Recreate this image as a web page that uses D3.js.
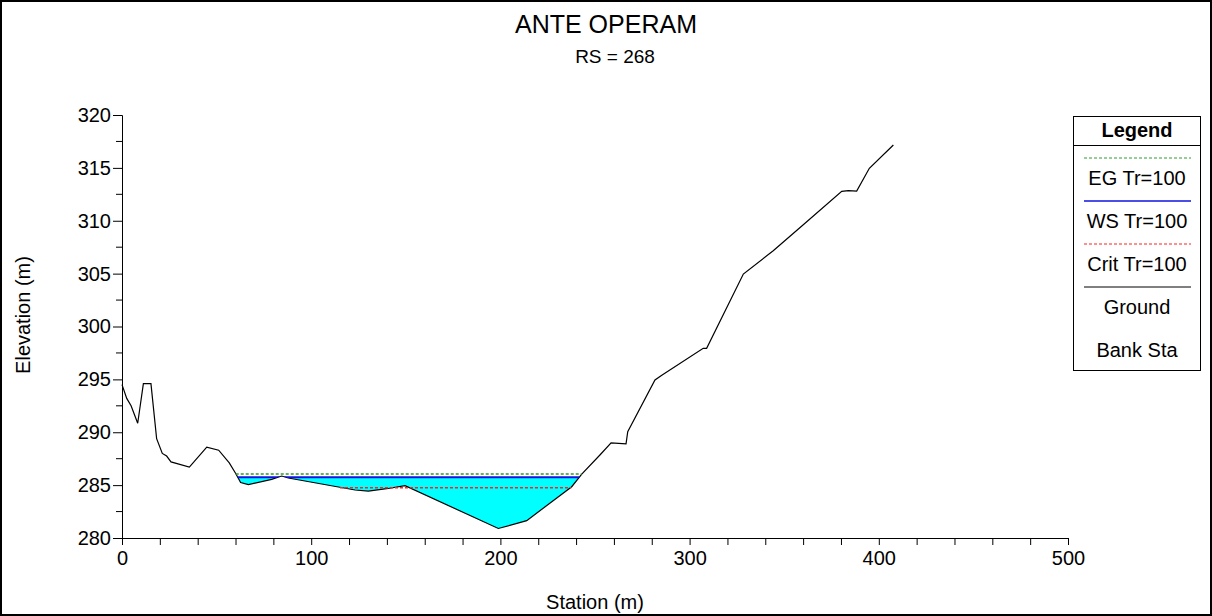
<!DOCTYPE html>
<html>
<head>
<meta charset="utf-8">
<script src="https://cdn.jsdelivr.net/npm/d3@7"></script>
<style>
  body { margin: 0; background: #fff; }
  text { font-family: Arial, "Liberation Sans", sans-serif; fill: #000; }
</style>
</head>
<body>
<div id="graf"></div>
<script>
// ground profile (station m, elevation m)
var stations = [0, 2.5, 4.8, 8.3, 11.3, 15.3, 18.3, 21.3, 23.6, 25.9, 35.6, 44.8, 51.1, 56.7, 60.1, 62.7, 66.8,
  79.1, 84.4, 87.9, 123.2, 130.2, 139.9, 149.6, 198.9, 213.9, 237.7, 243.0, 252.6, 258.5, 266.4, 267.3,
  281.7, 285.3, 307.2, 309.0, 328.4, 344.2, 361.0, 380.4, 383.9, 388.3, 395.0, 407.7]
var elevations = [294.5, 293.2, 292.5, 290.85, 294.6, 294.6, 289.4, 288.0, 287.75, 287.2, 286.7, 288.6, 288.3, 287.1, 286.1, 285.25, 285.05,
  285.55, 285.86, 285.67, 284.54, 284.44, 284.66, 284.95, 280.9, 281.64, 284.85, 286.05, 287.85, 289.0, 288.9, 290.05,
  294.94, 295.4, 297.94, 297.94, 304.96, 307.17, 309.76, 312.78, 312.84, 312.81, 314.96, 317.16]

// water levels: [elevation, from station, to station]
var egLevel = [286.05, 60.1, 243.0]
var wsLevel = [285.74, 60.8, 242.6]
var critLevel = [284.76, 115.2, 237.5]

var legendItems = ["EG Tr=100", "WS Tr=100", "Crit Tr=100", "Ground", "Bank Sta"]
var legendStyle = [
  {color: "#2e9a2e", dash: "3,2", w: 1},
  {color: "#1010e0", dash: null, w: 1.5},
  {color: "#ff2020", dash: "3,2", w: 1},
  {color: "#000", dash: null, w: 1},
  null
]

var ground = stations.map((s, i) => ({s: s, e: elevations[i]}))

var W = 1212, H = 616
var pLeft = 122, pRight = 1068, pTop = 115, pBottom = 538

var svg = d3.select('#graf')
  .append('svg')
  .attr('width', W)
  .attr('height', H)

svg.append("rect")
  .attr("x", 1).attr("y", 1)
  .attr("width", W - 2).attr("height", H - 2)
  .attr("fill", "#fff").attr("stroke", "#000").attr("stroke-width", 2)

var x = d3.scaleLinear().domain([0, 500]).range([pLeft, pRight])
var y = d3.scaleLinear().domain([280, 320]).range([pBottom, pTop])

// titles
svg.append("text").attr("x", 606).attr("y", 33).attr("text-anchor", "middle")
  .style("font-size", "25px").text("ANTE OPERAM")
svg.append("text").attr("x", 615).attr("y", 63).attr("text-anchor", "middle")
  .style("font-size", "19px").text("RS = 268")

// region above ground, used to clip the water
svg.append("clipPath").attr("id", "aboveGround")
  .append("path")
  .attr("d", d3.area().x(d => x(d.s)).y0(d => y(d.e)).y1(pTop - 20)(ground))

svg.append("rect")
  .attr("clip-path", "url(#aboveGround)")
  .attr("x", x(wsLevel[1])).attr("width", x(wsLevel[2]) - x(wsLevel[1]))
  .attr("y", y(wsLevel[0])).attr("height", y(280) - y(wsLevel[0]))
  .attr("fill", "#00ffff")

svg.append("path")
  .datum(ground)
  .attr("d", d3.line().x(d => x(d.s)).y(d => y(d.e)))
  .attr("fill", "none").attr("stroke", "#000").attr("stroke-width", 1.2)

function level(lv, st, clip) {
  var p = svg.append("line")
    .attr("x1", x(lv[1])).attr("x2", x(lv[2]))
    .attr("y1", y(lv[0])).attr("y2", y(lv[0]))
    .attr("stroke", st.color).attr("stroke-width", st.w + 0.5)
  if (st.dash) p.attr("stroke-dasharray", st.dash)
  if (clip) p.attr("clip-path", "url(#aboveGround)")
}
level(critLevel, legendStyle[2], false)
level(egLevel, legendStyle[0], false)
level(wsLevel, legendStyle[1], true)

// axes
var yAxis = svg.append("g").attr("transform", "translate(" + pLeft + ",0)")
  .call(d3.axisLeft(y).tickValues(d3.range(280, 321, 5)).tickSize(9).tickPadding(2).tickFormat(d3.format("d")))
yAxis.selectAll(".minor")
  .data(d3.range(282.5, 320, 5)).enter()
  .append("line").attr("class", "minor").attr("x1", 0).attr("x2", -6)
  .attr("y1", d => y(d)).attr("y2", d => y(d)).attr("stroke", "#000")

var xAxis = svg.append("g").attr("transform", "translate(0," + pBottom + ")")
  .call(d3.axisBottom(x).tickValues(d3.range(0, 501, 20)).tickSize(7).tickPadding(6)
    .tickFormat(d => d % 100 === 0 ? d : ""))

svg.selectAll(".domain").attr("stroke", "#000")
svg.selectAll(".tick line").attr("stroke", "#000")
svg.selectAll(".tick text").style("font-size", "20px").style("font-family", "Arial, 'Liberation Sans', sans-serif").attr("fill", "#000")

svg.append("text").attr("x", 595).attr("y", 609).attr("text-anchor", "middle")
  .style("font-size", "20px").text("Station (m)")
svg.append("text").attr("transform", "translate(30,315) rotate(-90)").attr("text-anchor", "middle")
  .style("font-size", "20px").text("Elevation (m)")

// legend
var lg = svg.append("g")
lg.append("rect").attr("x", 1073.5).attr("y", 116.5).attr("width", 127).attr("height", 254)
  .attr("fill", "#fff").attr("stroke", "#000")
lg.append("line").attr("x1", 1073.5).attr("x2", 1200.5).attr("y1", 145.5).attr("y2", 145.5).attr("stroke", "#000")
lg.append("text").attr("x", 1137).attr("y", 137).attr("text-anchor", "middle")
  .style("font-size", "20px").style("font-weight", "bold").text("Legend")

legendItems.forEach((name, i) => {
  var yy = 158 + i * 43
  var st = legendStyle[i]
  if (st) {
    var l = lg.append("line").attr("x1", 1084).attr("x2", 1191).attr("y1", yy).attr("y2", yy)
      .attr("stroke", st.color).attr("stroke-width", st.w)
    if (st.dash) l.attr("stroke-dasharray", st.dash)
  }
  lg.append("text").attr("x", 1137).attr("y", yy + 27).attr("text-anchor", "middle")
    .style("font-size", "20px").text(name)
})
</script>
</body>
</html>
